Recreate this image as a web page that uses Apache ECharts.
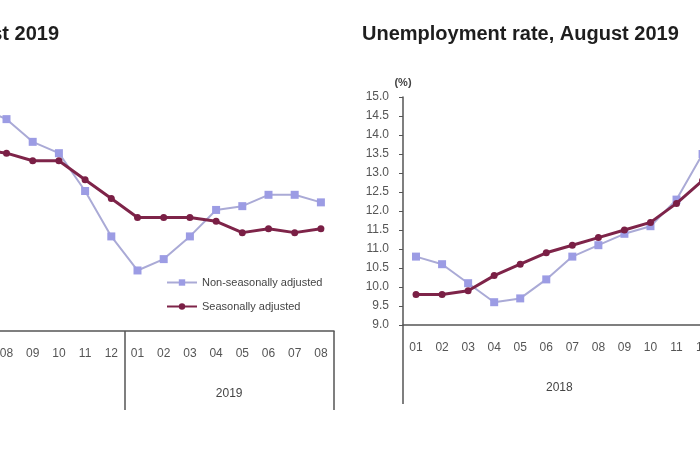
<!DOCTYPE html>
<html>
<head>
<meta charset="utf-8">
<script src="https://cdn.jsdelivr.net/npm/echarts@6/dist/echarts.min.js"></script>
<style>
html,body{margin:0;padding:0;background:#fff;}
#chart{width:700px;height:450px;}
</style>
</head>
<body>
<div id="chart"></div>
<script>
// Month categories (Jan 2018 .. Aug 2019)
const months = ['01','02','03','04','05','06','07','08','09','10','11','12','01','02','03','04','05','06','07','08'];
const years = ['2018','2019'];
const monthsInYear = [12, 8];

// Left panel (chart cut off at the left edge): employment rate, %
const employmentNSA = [null,null,null,null,null,null,48.4,48.1,47.5,47.2,46.2,45.0,44.1,44.4,45.0,45.7,45.8,46.1,46.1,45.9];
const employmentSA  = [null,null,null,null,null,null,47.3,47.2,47.0,47.0,46.5,46.0,45.5,45.5,45.5,45.4,45.1,45.2,45.1,45.2];

// Right panel: unemployment rate, %
const unemploymentNSA = [10.8,10.6,10.1,9.6,9.7,10.2,10.8,11.1,11.4,11.6,12.3,13.5,null,null,null,null,null,null,null,null];
const unemploymentSA  = [9.8,9.8,9.9,10.3,10.6,10.9,11.1,11.3,11.5,11.7,12.2,12.8,null,null,null,null,null,null,null,null];

const nsaName = 'Non-seasonally adjusted';
const saName = 'Seasonally adjusted';

// year group boundaries and centres (in category units)
const bounds = [0];
const centers = [];
monthsInYear.forEach(function (n) {
  const start = bounds[bounds.length - 1];
  centers.push(start + n / 2);
  bounds.push(start + n);
});
const total = months.length;

const axisColor = '#555';
const labelColor = '#555';
const FONT = 'Liberation Sans, Arial, sans-serif';

function monthAxis(gridIndex) {
  return {
    type: 'category', gridIndex: gridIndex, data: months, boundaryGap: true,
    axisLine: {show: true, lineStyle: {color: axisColor, width: 1.5}},
    axisTick: {show: false},
    axisLabel: {interval: 0, margin: 17, color: labelColor, fontSize: 12, fontFamily: FONT},
    splitLine: {show: false}
  };
}
function yearAxis(gridIndex) {
  return {
    type: 'value', gridIndex: gridIndex, min: 0, max: total, position: 'bottom',
    axisLine: {show: false},
    axisTick: {show: true, customValues: bounds, length: 79, inside: false,
      lineStyle: {color: axisColor, width: 1.5}},
    axisLabel: {show: true, customValues: centers, margin: 57, color: '#444', fontSize: 12, fontFamily: FONT,
      formatter: function (v) {
        for (let i = 0; i < centers.length; i++) { if (Math.abs(centers[i] - v) < 1e-6) return years[i]; }
        return '';
      }},
    splitLine: {show: false}
  };
}

function nsaSeries(x, y, data) {
  return {
    name: nsaName, type: 'line', xAxisIndex: x, yAxisIndex: y, data: data,
    symbol: 'rect', symbolSize: 8, showAllSymbol: true,
    lineStyle: {color: '#aaaad6', width: 2},
    itemStyle: {color: '#9c9ce4'},
    z: 2
  };
}
function saSeries(x, y, data) {
  return {
    name: saName, type: 'line', xAxisIndex: x, yAxisIndex: y, data: data,
    symbol: 'circle', symbolSize: 7, showAllSymbol: true,
    lineStyle: {color: '#7e2449', width: 3},
    itemStyle: {color: '#7a1f45'},
    z: 3
  };
}

const chart = echarts.init(document.getElementById('chart'), null, {renderer: 'canvas'});
chart.setOption({
  animation: false,
  backgroundColor: '#ffffff',
  textStyle: {fontFamily: FONT},
  title: [
    {text: 'Employment rate, August 2019', right: 641, top: 24, padding: 0,
     textStyle: {fontSize: 20, fontWeight: 'bold', color: '#1e1e1e', fontFamily: FONT}},
    {text: 'Unemployment rate, August 2019', left: 362, top: 24, padding: 0,
     textStyle: {fontSize: 20, fontWeight: 'bold', color: '#1e1e1e', fontFamily: FONT}}
  ],
  legend: {
    data: [nsaName, saName], orient: 'vertical', left: 166, top: 277,
    itemWidth: 30, itemHeight: 8, itemGap: 13, padding: 0,
    textStyle: {fontSize: 11, color: '#444', fontFamily: FONT}
  },
  grid: [
    {left: -190, top: 104, width: 524, height: 227, containLabel: false, outerBoundsMode: 'none'},
    {left: 403, top: 97, width: 521, height: 228, containLabel: false, outerBoundsMode: 'none'}
  ],
  xAxis: [monthAxis(0), yearAxis(0), monthAxis(1), yearAxis(1)],
  yAxis: [
    {type: 'value', gridIndex: 0, min: 42.5, max: 48.5, show: false, splitLine: {show: false}},
    {type: 'value', gridIndex: 1, min: 9, max: 15, interval: 0.5,
     name: '(%)', nameLocation: 'end', nameGap: 9,
     nameTextStyle: {fontSize: 11, fontWeight: 'bold', color: '#444', align: 'center', fontFamily: FONT},
     axisLine: {show: true, lineStyle: {color: axisColor, width: 1.5}},
     axisTick: {show: true, length: 4, lineStyle: {color: axisColor, width: 1}},
     axisLabel: {margin: 14, color: labelColor, fontSize: 12, fontFamily: FONT,
       formatter: function (v) { return v.toFixed(1); }},
     splitLine: {show: false}}
  ],
  series: [
    nsaSeries(0, 0, employmentNSA),
    saSeries(0, 0, employmentSA),
    nsaSeries(2, 1, unemploymentNSA),
    saSeries(2, 1, unemploymentSA)
  ]
});
</script>
</body>
</html>
